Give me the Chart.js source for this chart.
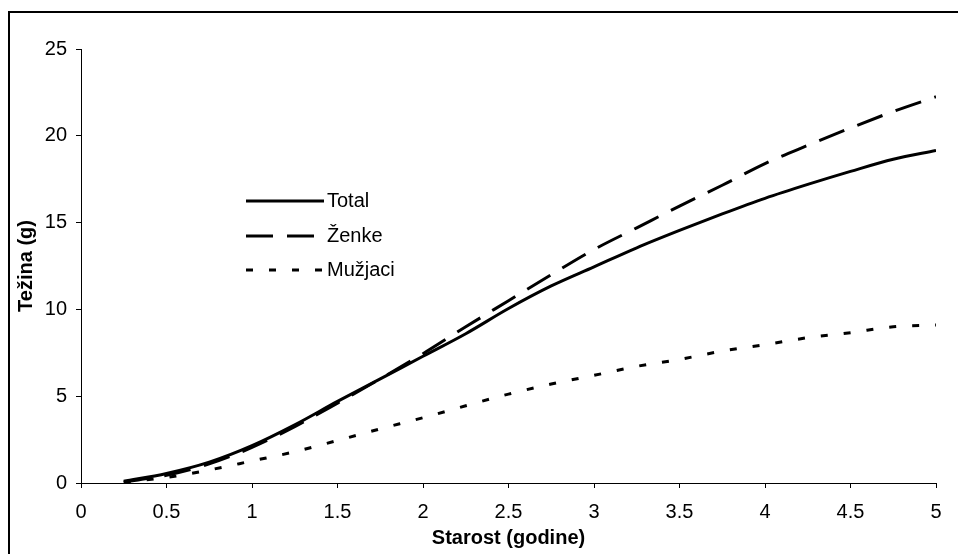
<!DOCTYPE html>
<html>
<head>
<meta charset="utf-8">
<script src="https://cdn.jsdelivr.net/npm/chart.js@4"></script>
<style>
  html, body { margin: 0; padding: 0; background: #fff; }
  #wrap { width: 958px; height: 554px; }
</style>
</head>
<body>
<div id="wrap"><canvas id="graph" width="958" height="554"></canvas></div>
<script>
const starost = [0.25, 0.5, 0.75, 1, 1.25, 1.5, 1.75, 2, 2.25, 2.5, 2.75, 3, 3.25, 3.5, 3.75, 4, 4.25, 4.5, 4.75, 5];
const total = [0.1, 0.55, 1.2, 2.15, 3.35, 4.7, 6.0, 7.3, 8.6, 10.05, 11.35, 12.45, 13.55, 14.55, 15.5, 16.4, 17.2, 17.95, 18.65, 19.15];
const zenke = [0.05, 0.45, 1.1, 2.05, 3.25, 4.6, 6.0, 7.45, 9.0, 10.5, 12.0, 13.45, 14.7, 15.95, 17.15, 18.4, 19.45, 20.45, 21.4, 22.25];
const muzjaci = [0.05, 0.32, 0.75, 1.27, 1.8, 2.45, 3.12, 3.76, 4.45, 5.12, 5.7, 6.2, 6.72, 7.12, 7.6, 7.97, 8.37, 8.66, 9.0, 9.1];

const FONT = '"Liberation Sans", Arial, sans-serif';

function serie(label, values, dash) {
  return {
    label: label,
    data: starost.map((x, i) => ({ x: x, y: values[i] })),
    borderColor: '#000',
    borderWidth: 3,
    borderDash: dash,
    pointRadius: 0,
    cubicInterpolationMode: 'monotone',
    fill: false
  };
}

// legend drawn inside the plot, plus the outer frame
const frameLegend = {
  id: 'frameLegend',
  afterDraw(chart) {
    const ctx = chart.ctx;
    ctx.save();
    ctx.strokeStyle = '#000';
    ctx.lineWidth = 2;
    ctx.setLineDash([]);
    ctx.strokeRect(9, 12, 1200, 1200);

    const rows = [201, 236, 270];
    chart.data.datasets.forEach((ds, i) => {
      const y = rows[i];
      ctx.beginPath();
      ctx.lineWidth = 3;
      ctx.setLineDash(ds.borderDash || []);
      ctx.moveTo(246, y);
      ctx.lineTo(324, y);
      ctx.stroke();
      ctx.setLineDash([]);
      ctx.fillStyle = '#000';
      ctx.font = '20px ' + FONT;
      ctx.textBaseline = 'middle';
      ctx.fillText(ds.label, 327, y);
    });
    ctx.restore();
  }
};

new Chart(document.getElementById('graph').getContext('2d'), {
  type: 'line',
  data: {
    datasets: [
      serie('Total', total, []),
      serie('Ženke', zenke, [27, 14]),
      serie('Mužjaci', muzjaci, [7, 16])
    ]
  },
  options: {
    responsive: false,
    animation: false,
    layout: { padding: { top: 49, right: 22, left: 0, bottom: 0 } },
    plugins: { legend: { display: false }, tooltip: { enabled: false } },
    scales: {
      x: {
        type: 'linear',
        min: 0,
        max: 5,
        afterFit(s) { s.height = 71; },
        ticks: { stepSize: 0.5, color: '#000', padding: 12, font: { family: FONT, size: 20 }, callback: v => String(v) },
        grid: { drawOnChartArea: false, tickLength: 5, color: '#000' },
        border: { color: '#000', width: 1 },
        title: { display: true, text: 'Starost (godine)', color: '#000', padding: { top: 0, bottom: 4 }, font: { family: FONT, size: 20, weight: 'bold' } }
      },
      y: {
        min: 0,
        max: 25,
        afterFit(s) { s.width = 81; },
        ticks: { stepSize: 5, color: '#000', padding: 9, font: { family: FONT, size: 20 } },
        grid: { drawOnChartArea: false, tickLength: 5, color: '#000' },
        border: { color: '#000', width: 1 },
        title: { display: true, text: 'Težina (g)', color: '#000', padding: { top: 14, bottom: 0 }, font: { family: FONT, size: 20, weight: 'bold' } }
      }
    }
  },
  plugins: [frameLegend]
});
</script>
</body>
</html>
